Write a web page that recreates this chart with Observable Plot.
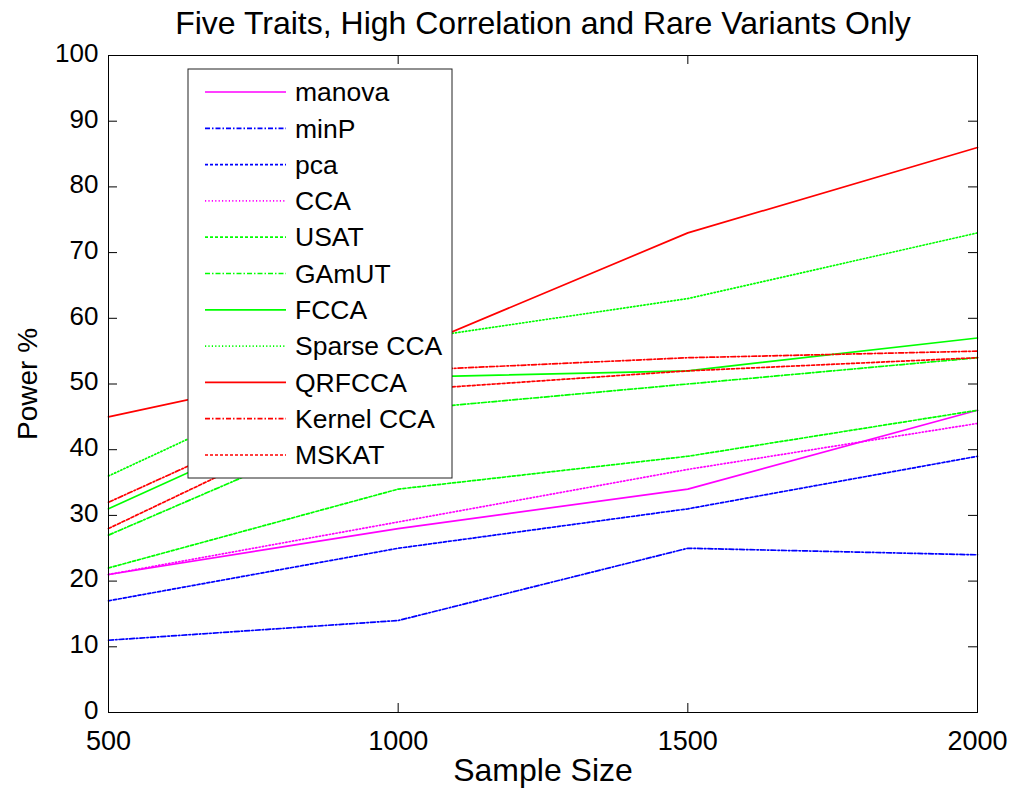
<!DOCTYPE html>
<html>
<head>
<meta charset="utf-8">
<script src="https://cdn.jsdelivr.net/npm/d3@7"></script>
<script src="https://cdn.jsdelivr.net/npm/@observablehq/plot@0.6"></script>
<style>
  body { margin: 0; background: #fff; }
  #chart { width: 1011px; height: 788px; }
  #chart svg { font-family: "Liberation Sans", Arial, Helvetica, sans-serif; }
</style>
</head>
<body>
<div id="chart"></div>
<script>
// Power (%) of each test at each sample size
const sampleSizes = [500, 1000, 1500, 2000];
const xTicks = [500, 1000, 1500, 2000];
const yTicks = [0, 10, 20, 30, 40, 50, 60, 70, 80, 90, 100];

const methods = ["manova", "minP", "pca", "CCA", "USAT", "GAmUT", "FCCA", "Sparse CCA", "QRFCCA", "Kernel CCA", "MSKAT"];

const manova    = [21, 28, 34, 46];
const minP      = [11, 14, 25, 24];
const pca       = [17, 25, 31, 39];
const cca       = [21, 29, 37, 44];
const usat      = [22, 34, 39, 46];
const gamut     = [27, 46, 50, 54];
const fcca      = [31, 51, 52, 57];
const sparseCca = [36, 56.5, 63, 73];
const qrfcca    = [45, 54.5, 73, 86];
const kernelCca = [32, 52, 54, 55];
const mskat     = [28, 49, 52, 54];

const series = [manova, minP, pca, cca, usat, gamut, fcca, sparseCca, qrfcca, kernelCca, mskat];

// Line colour and dash pattern for each method (MATLAB-style line specs)
const colors = ["#ff00ff", "#0000ff", "#0000ff", "#ff00ff", "#00ff00", "#00ff00", "#00ff00", "#00ff00", "#ff0000", "#ff0000", "#ff0000"];
const dashes = [null, "5,2,1.5,2", "3,2", "1.2,2.2", "3,2", "5,2,1.5,2", null, "1.2,2.2", null, "5,2,1.5,2", "3,2"];

const rows = methods.flatMap((method, i) =>
  sampleSizes.map((size, j) => ({method, size, power: series[i][j]}))
);

const width = 1011, height = 788;
const margin = {top: 55, right: 34, bottom: 76, left: 108};
const frameW = width - margin.left - margin.right;
const frameH = height - margin.top - margin.bottom;
const tickLen = 9;

const lineMarks = methods.map((method, i) =>
  Plot.line(rows.filter(d => d.method === method), {
    x: "size", y: "power",
    stroke: colors[i], strokeWidth: 1.7,
    strokeDasharray: dashes[i] ?? undefined
  })
);

const chart = Plot.plot({
  width, height,
  marginTop: margin.top, marginRight: margin.right,
  marginBottom: margin.bottom, marginLeft: margin.left,
  style: {fontSize: "28px", color: "#000", background: "#fff"},
  x: {domain: [500, 2000], label: null},
  y: {domain: [0, 100], label: null},
  marks: [
    ...lineMarks,
    Plot.frame({stroke: "#000", strokeWidth: 1}),
    // inward tick marks on all four sides of the box
    Plot.ruleX(xTicks, {x: d => d, insetTop: frameH - tickLen, stroke: "#000"}),
    Plot.ruleX(xTicks, {x: d => d, insetBottom: frameH - tickLen, stroke: "#000"}),
    Plot.ruleY(yTicks, {y: d => d, insetRight: frameW - tickLen, stroke: "#000"}),
    Plot.ruleY(yTicks, {y: d => d, insetLeft: frameW - tickLen, stroke: "#000"}),
    Plot.axisX({ticks: xTicks, tickSize: 0, tickPadding: 18, tickFormat: d => String(d), fontSize: 27, label: null}),
    Plot.axisY({ticks: yTicks, tickSize: 0, tickPadding: 10, dy: -2, tickFormat: d => String(d), fontSize: 26, label: null}),
    Plot.text(["Five Traits, High Correlation and Rare Variants Only"], {frameAnchor: "top", lineAnchor: "middle", dy: -32, fontSize: 32, fill: "#000"}),
    Plot.text(["Sample Size"], {frameAnchor: "bottom", lineAnchor: "middle", dy: 58, fontSize: 32, fill: "#000"}),
    Plot.text(["Power %"], {frameAnchor: "left", textAnchor: "middle", dx: -80, rotate: -90, fontSize: 28, fill: "#000"})
  ]
});

document.getElementById("chart").append(chart);

// Legend box drawn into the same SVG, over the lines
const svg = d3.select(chart);
const lg = svg.append("g").attr("transform", "translate(188,69)");
lg.append("rect")
  .attr("width", 264).attr("height", 409)
  .attr("fill", "#fff").attr("stroke", "#222").attr("stroke-width", 1);
methods.forEach((method, i) => {
  const cy = 23 + i * 36.3;
  lg.append("line")
    .attr("x1", 17).attr("x2", 98).attr("y1", cy).attr("y2", cy)
    .attr("stroke", colors[i]).attr("stroke-width", 1.7)
    .attr("stroke-dasharray", dashes[i]);
  lg.append("text")
    .attr("x", 107).attr("y", cy).attr("dy", "0.35em")
    .attr("text-anchor", "start")
    .attr("font-size", 26.5).attr("fill", "#000")
    .text(method);
});
</script>
</body>
</html>
